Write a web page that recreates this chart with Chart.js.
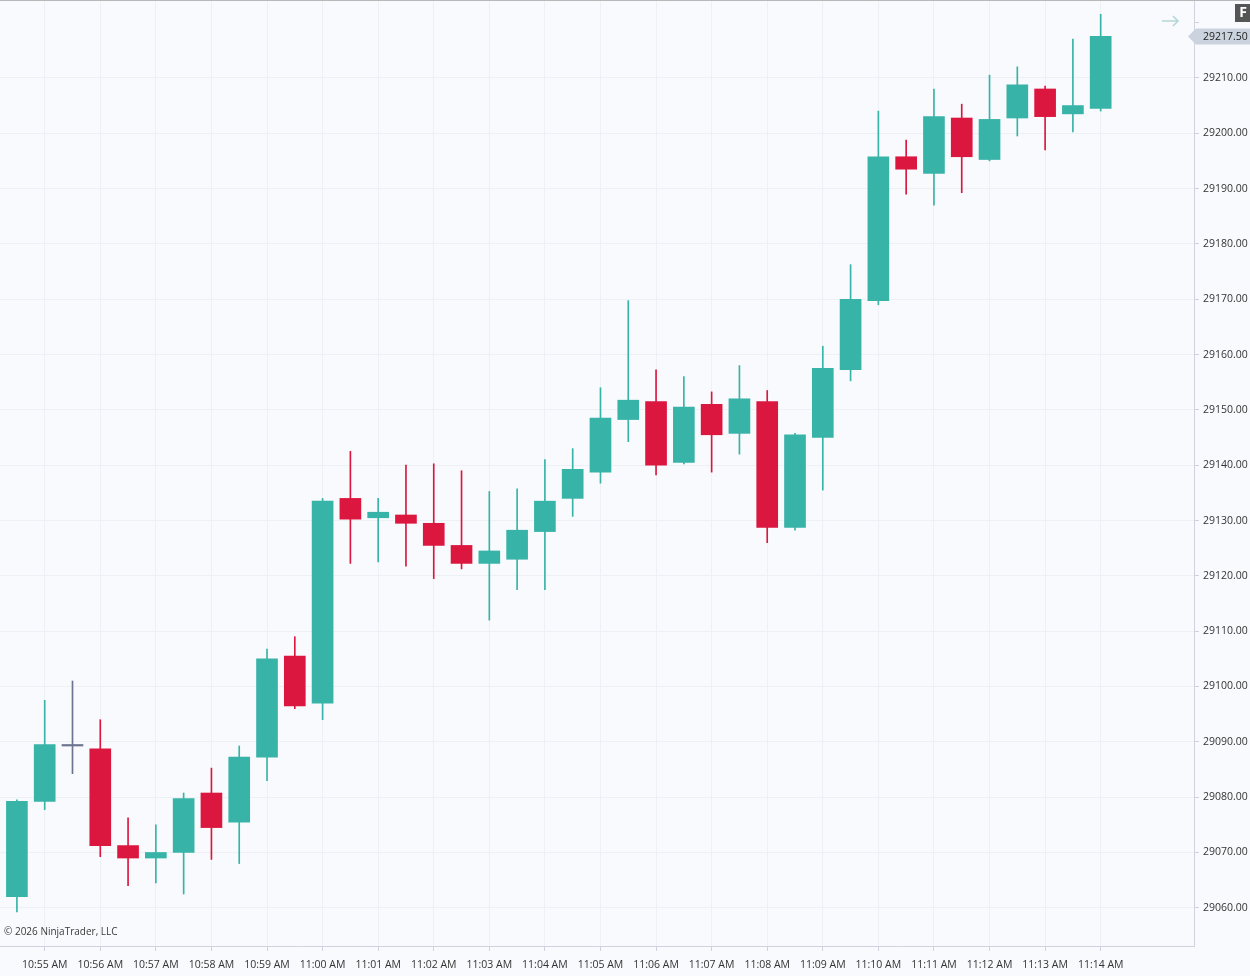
<!DOCTYPE html>
<html><head><meta charset="utf-8">
<script src="https://cdn.jsdelivr.net/npm/chart.js@4.4.1/dist/chart.umd.min.js"></script>
<style>
html,body{margin:0;padding:0;background:#f8fafd;}
#wrap{position:relative;width:1250px;height:976px;overflow:hidden;background:#f8fafd;}
#topline{position:absolute;left:0;top:0;width:1250px;height:1px;background:#b8b8b8;}
#c{position:absolute;left:0;top:1px;}
</style></head><body>
<div id="wrap"><div id="topline"></div><canvas id="c" width="1250" height="975"></canvas></div>
<script>
// ---- data ----
const times = ['10:54:30','10:55:00','10:55:30','10:56:00','10:56:30','10:57:00','10:57:30','10:58:00','10:58:30','10:59:00',
  '10:59:30','11:00:00','11:00:30','11:01:00','11:01:30','11:02:00','11:02:30','11:03:00','11:03:30','11:04:00',
  '11:04:30','11:05:00','11:05:30','11:06:00','11:06:30','11:07:00','11:07:30','11:08:00','11:08:30','11:09:00',
  '11:09:30','11:10:00','11:10:30','11:11:00','11:11:30','11:12:00','11:12:30','11:13:00','11:13:30','11:14:00'];
const opens = [29062,29079.25,29089.25,29088.75,29071.25,29069,29070,29080.75,29075.5,29087.25,
  29105.5,29097,29134,29130.5,29131,29129.5,29125.5,29122.25,29123,29128,
  29134,29138.75,29148.25,29151.5,29140.5,29151,29145.75,29151.5,29128.75,29145,
  29157.25,29169.75,29195.75,29192.75,29202.75,29195.25,29202.75,29208,29203.5,29204.5];
const highs = [29079.5,29097.5,29101,29094,29076.25,29075,29080.75,29085.25,29089.25,29106.75,
  29109,29134,29142.5,29134,29140,29140.25,29139,29135.25,29135.75,29141,
  29143,29154,29169.75,29157.25,29156,29153.25,29158,29153.5,29145.75,29161.5,
  29176.25,29204,29198.75,29208,29205.25,29210.5,29212,29208.5,29217,29221.5];
const lows = [29059.25,29077.75,29084.25,29069.25,29064,29064.5,29062.5,29068.75,29068,29083,
  29096,29094,29122.25,29122.5,29121.75,29119.5,29121.25,29112,29117.5,29117.5,
  29130.75,29136.75,29144.25,29138.25,29140.25,29138.75,29142,29126,29128.25,29135.5,
  29155.25,29169,29189,29187,29189.25,29195,29199.5,29197,29200.25,29204];
const closes = [29079.25,29089.5,29089.25,29071.25,29069,29070,29079.75,29074.5,29087.25,29105,
  29096.5,29133.5,29130.25,29131.5,29129.5,29125.5,29122.25,29124.5,29128.25,29133.5,
  29139.25,29148.5,29151.75,29140,29150.5,29145.5,29152,29128.75,29145.5,29157.5,
  29170,29195.75,29193.5,29203,29195.75,29202.5,29208.75,29203,29205,29217.5];
const lastPrice = 29217.5;
const copyright = '\u00A9 2026 NinjaTrader, LLC';

// ---- styling ----
const UP = '#38b3a8', DOWN = '#dc173f', DOJI = '#6c7390';
const GRID = '#edf0f4', AXIS = '#cfd3e0', TEXT = '#333333';
const FONT = {family: "'Open Sans', 'Noto Sans', sans-serif", size: 10.5};
const CFONT = "10.5px 'Open Sans', 'Noto Sans', sans-serif";

function toMin(t){ const p=t.split(':').map(Number); return p[0]*60+p[1]+(p[2]||0)/60; }
function fmtTime(m){ let h=Math.floor(m/60), mm=Math.round(m-h*60); const ap=h>=12?'PM':'AM'; let hh=h%12; if(hh===0)hh=12; return hh+':'+String(mm).padStart(2,'0')+' '+ap; }

const xs = times.map(toMin);
const colors = opens.map((o,i)=> closes[i]>o ? UP : (closes[i]<o ? DOWN : DOJI));
const firstLabel = Math.ceil(xs[0]), lastLabel = Math.floor(xs[xs.length-1]);

const decor = {
  id:'decor',
  beforeDraw(chart){ const c=chart.ctx; c.save(); c.fillStyle='#f8fafd'; c.fillRect(0,0,chart.width,chart.height); c.restore(); },
  afterDraw(chart){
    const c=chart.ctx, ys=chart.scales.y, area=chart.chartArea;
    c.save();
    // last price tag
    const py = ys.getPixelForValue(lastPrice);
    c.fillStyle='#cbd3de';
    c.beginPath(); c.moveTo(area.right-6,py); c.lineTo(area.right+2,py-8); c.lineTo(chart.width,py-8); c.lineTo(chart.width,py+8); c.lineTo(area.right+2,py+8); c.closePath(); c.fill();
    c.fillStyle='#222'; c.font=CFONT; c.textAlign='left'; c.textBaseline='middle';
    c.fillText(lastPrice.toFixed(2), area.right+9, py+0.5);
    // F box
    c.fillStyle='#555555'; c.fillRect(chart.width-15,3,15,18);
    c.fillStyle='#ffffff'; c.font="bold 14px 'Open Sans', sans-serif"; c.textAlign='center'; c.fillText('F', chart.width-7, 12.5);
    // arrow
    c.strokeStyle='#b5d6d8'; c.lineWidth=1.5; c.beginPath();
    c.moveTo(area.right-32,20); c.lineTo(area.right-16,20); c.moveTo(area.right-21,15); c.lineTo(area.right-16,20); c.lineTo(area.right-21,25); c.stroke();
    // copyright
    c.fillStyle='#3a3a3a'; c.font="10px 'Open Sans', 'Noto Sans', sans-serif"; c.textAlign='left'; c.textBaseline='middle';
    c.fillText(copyright, 4, 931);
    c.restore();
  }
};

new Chart(document.getElementById('c'), {
  type:'bar',
  data:{
    datasets:[
      { label:'body', order:1, grouped:false, barThickness:21, minBarLength:1.5, borderWidth:0,
        backgroundColor:colors, data: xs.map((x,i)=>({x:x, y:[opens[i], closes[i]]})) },
      { label:'wick', order:2, grouped:false, barThickness:1, borderWidth:0,
        backgroundColor:colors, data: xs.map((x,i)=>({x:x, y:[lows[i], highs[i]]})) }
    ]
  },
  options:{
    responsive:false, animation:false, devicePixelRatio:1,
    layout:{padding:0},
    plugins:{legend:{display:false}, tooltip:{enabled:false}},
    scales:{
      x:{ type:'linear', position:'bottom', min:654.1957, max:675.679, offset:false,
        afterBuildTicks(s){ s.ticks = s.ticks.filter(t=>t.value>=firstLabel && t.value<=lastLabel); },
        afterFit(s){ s.height=30; s.paddingLeft=0; s.paddingRight=0; s.paddingTop=0; s.paddingBottom=0; },
        ticks:{ stepSize:1, includeBounds:false, autoSkip:false, maxRotation:0, padding:8, color:TEXT, font:FONT,
          callback:(v)=>fmtTime(v) },
        grid:{ color:GRID, offset:false, tickLength:5, tickColor:AXIS },
        border:{ color:AXIS }
      },
      y:{ type:'linear', position:'right', min:29053.1, max:29223.9,
        afterFit(s){ s.width=56; s.paddingTop=0; s.paddingBottom=0; s.paddingLeft=0; s.paddingRight=0; },
        ticks:{ stepSize:10, includeBounds:false, padding:4, color:TEXT, font:FONT,
          callback:(v)=> v>29215 ? '' : v.toFixed(2) },
        grid:{ color:(ctx)=> (ctx.tick && ctx.tick.value>29215) ? 'rgba(0,0,0,0)' : GRID, tickLength:5, tickColor:AXIS },
        border:{ color:AXIS }
      }
    }
  },
  plugins:[decor]
});
</script>
</body></html>
